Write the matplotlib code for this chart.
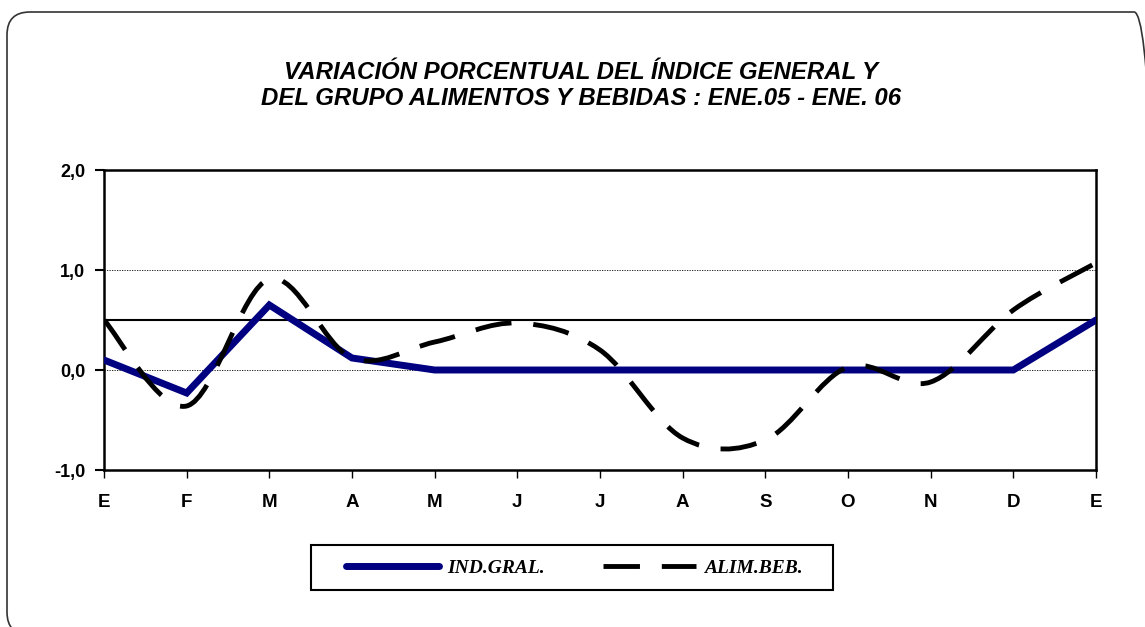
import numpy as np
import matplotlib.pyplot as plt
from matplotlib.path import Path
from matplotlib.patches import PathPatch, FancyBboxPatch, Rectangle
from matplotlib.lines import Line2D

# Monthly values, Jan 2005 - Jan 2006
months = ["E", "F", "M", "A", "M", "J", "J", "A", "S", "O", "N", "D", "E"]
ind_gral = [0.10, -0.23, 0.65, 0.12, 0.0, 0.0, 0.0, 0.0, 0.0, 0.0, 0.0, 0.0, 0.50]
alim_beb = [0.50, -0.36, 0.91, 0.12, 0.28, 0.47, 0.20, -0.68, -0.70, 0.03, -0.12, 0.60, 1.07]
y_ticks = [-1.0, 0.0, 1.0, 2.0]
y_tick_labels = ["-1,0", "0,0", "1,0", "2,0"]

title = "VARIACIÓN PORCENTUAL DEL ÍNDICE GENERAL Y\nDEL GRUPO ALIMENTOS Y BEBIDAS : ENE.05 - ENE. 06"


def smooth_path(xs, ys):
    # Excel-style smoothed line: cubic bezier through every point
    pts = np.column_stack([xs, ys]).astype(float)
    ext = np.vstack([pts[0], pts, pts[-1]])
    verts = [pts[0]]
    codes = [Path.MOVETO]
    for i in range(len(pts) - 1):
        p0, p1, p2, p3 = ext[i], ext[i + 1], ext[i + 2], ext[i + 3]
        verts += [p1 + (p2 - p0) / 6, p2 - (p3 - p1) / 6, p2]
        codes += [Path.CURVE4] * 3
    return Path(verts, codes)


plt.rcParams["font.family"] = ["Liberation Sans", "DejaVu Sans"]

W, H = 1145, 627
fig = plt.figure(figsize=(W / 100, H / 100), dpi=100)
ax = fig.add_axes([104 / W, 1 - 470 / H, 992 / W, 300 / H])

x = np.arange(len(months))

# reference lines
ax.axhline(0.5, color="black", lw=1.5, zorder=1)
for yv in [0.0, 1.0]:
    ax.axhline(yv, color="black", lw=0.6, ls=(0, (1.5, 1.5)), zorder=1)

ax.plot(x, ind_gral, color="#000080", lw=5, solid_capstyle="round",
        solid_joinstyle="miter", zorder=3)

patch = PathPatch(smooth_path(x, alim_beb), fill=False, edgecolor="black",
                  lw=3.5, ls=(0, (7.5, 4.5)), capstyle="butt", zorder=4)
ax.add_patch(patch)

ax.set_xlim(0, 12)
ax.set_ylim(-1, 2)
ax.set_xticks(x)
ax.set_xticklabels(months, fontsize=13.5, fontweight="bold")
ax.set_yticks(y_ticks)
ax.set_yticklabels(y_tick_labels, fontsize=13, fontweight="bold")
ax.tick_params(axis="x", direction="out", length=6, width=1, pad=11)
ax.tick_params(axis="y", direction="out", length=6.5, width=1.5, pad=7)
for sp in ax.spines.values():
    sp.set_linewidth(1.8)

fig.text(0.5075, 1 - 85.5 / H, title, ha="center", va="center",
         fontsize=17.3, style="italic", fontweight="bold", linespacing=1.2)

# legend (box drawn separately to get the wide inner margins)
handles = [
    Line2D([], [], color="#000080", lw=5, solid_capstyle="round"),
    Line2D([], [], color="black", lw=3.5, ls=(0, (7.5, 4.5)), dash_capstyle="butt"),
]
leg = fig.legend(handles, ["IND.GRAL.", "ALIM.BEB."], ncol=2,
                 loc="center", bbox_to_anchor=(574 / W, 1 - 568 / H),
                 frameon=False, handlelength=4.8, handletextpad=0.4,
                 columnspacing=3.0, borderpad=0, borderaxespad=0,
                 prop={"family": "Liberation Serif", "style": "italic",
                       "weight": "bold", "size": 14})
fig.patches.append(Rectangle((311 / W, 1 - 590 / H), 522 / W, 45 / H,
                             transform=fig.transFigure, fill=False,
                             edgecolor="black", lw=1.5))

# outer rounded frame
frame = FancyBboxPatch((7 / W, 1 - 635 / H), 1150 / W, 623 / H,
                       boxstyle="round,pad=0,rounding_size=0.02",
                       mutation_aspect=W / H, transform=fig.transFigure,
                       fill=False, edgecolor="#333333", lw=1.2, clip_on=False)
fig.patches.append(frame)

fig.savefig("out.png", dpi=100)
